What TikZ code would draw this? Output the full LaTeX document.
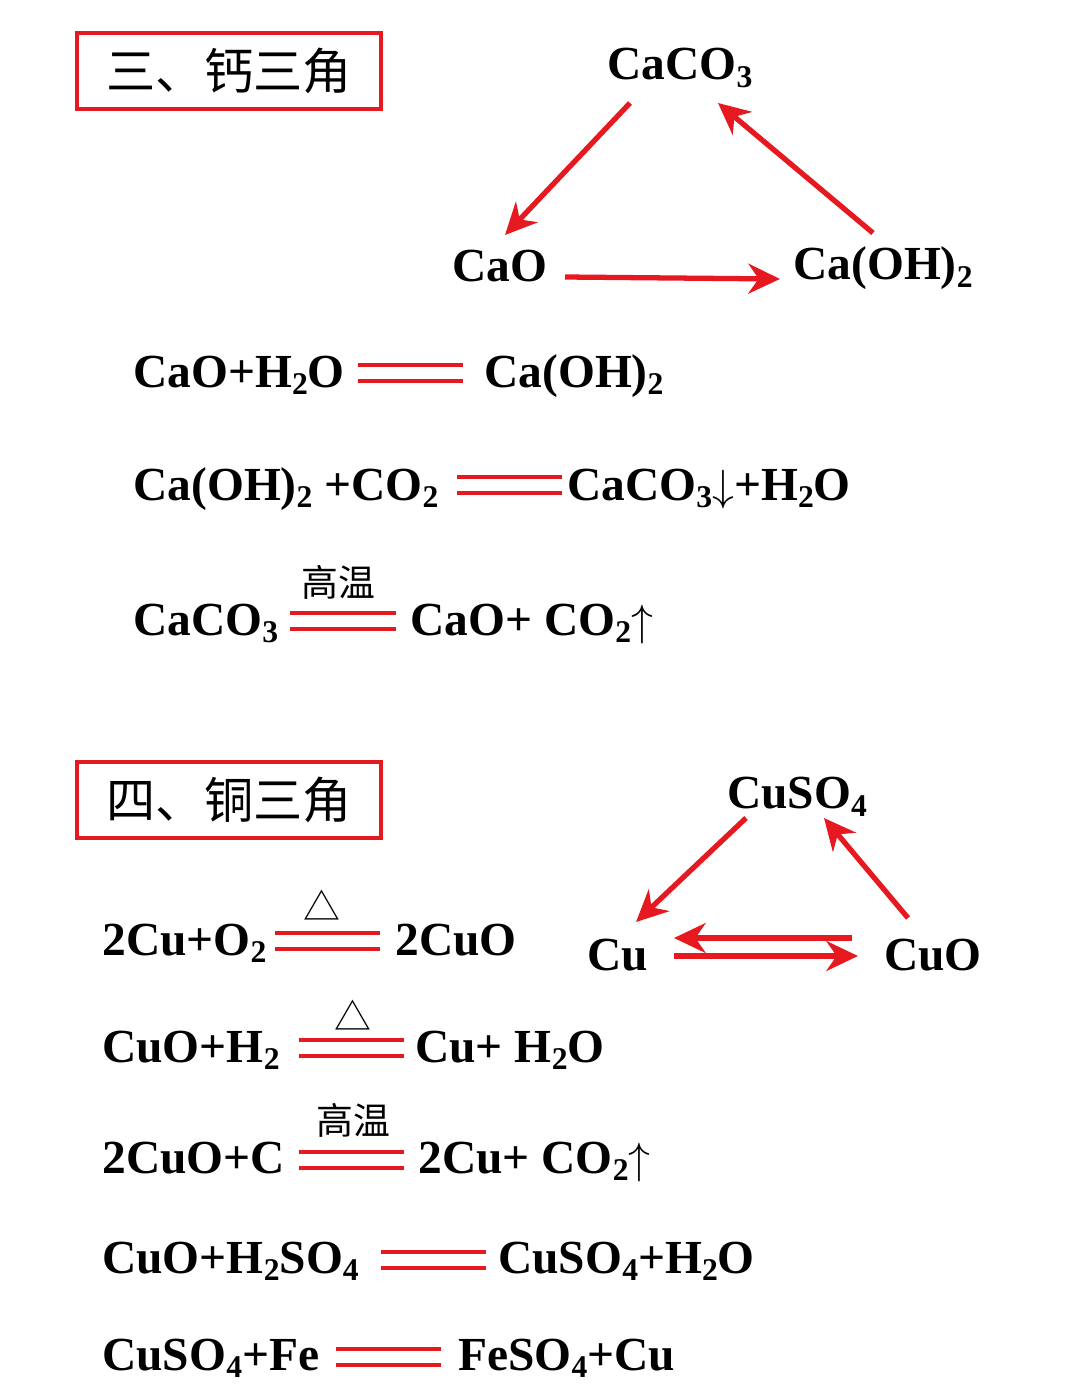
\documentclass[tikz,border=0pt]{standalone}
\usepackage{fontspec}
\setmainfont{Liberation Serif}
\newfontfamily\cjk{Noto Sans CJK SC}
\usetikzlibrary{arrows.meta}
\definecolor{ChemRed}{rgb}{0.9,0.1,0.12}
\newcommand{\sbs}[1]{\raisebox{-0.35ex}{\fontsize{18}{20}\selectfont #1}}
\begin{document}
\begin{tikzpicture}[x=0.02cm,y=-0.02cm,
  formula/.style={anchor=base west,inner sep=0pt,font=\fontsize{27}{30}\selectfont\bfseries},
  species/.style={inner sep=2pt,font=\fontsize{27}{30}\selectfont\bfseries},
  cond/.style={inner sep=0pt,font=\cjk\fontsize{21}{24}\selectfont},
  title/.style={draw=ChemRed,line width=2.5pt,minimum width=304*0.02cm,minimum height=76*0.02cm,font=\cjk\fontsize{28}{32}\selectfont},
  conv/.style={ChemRed,line width=3pt,-{Stealth[length=18pt,width=17pt]}},
  eqline/.style={ChemRed,line width=2.2pt}]
\useasboundingbox (0,0) rectangle (1080,1386);
\newcommand{\eqsign}[3]{% x1, x2, y
  \draw[eqline] (#1,#3-8) -- (#2,#3-8);
  \draw[eqline] (#1,#3+8) -- (#2,#3+8);}

% calcium triangle
\node[title] (t1) at (229,71) {三、钙三角};
\node[species] (caco3) at (680,68) {CaCO\sbs{3}};
\node[species] (cao) at (500,266) {CaO};
\node[species] (caoh) at (883,268) {Ca(OH)\sbs{2}};
\coordinate (a1) at (630,103); \coordinate (b1) at (505,235);
\coordinate (a2) at (873,233); \coordinate (b2) at (718,103);
\coordinate (a3) at (565,277); \coordinate (b3) at (780,279);
\draw[conv] (a1) -- (b1);
\draw[conv] (a2) -- (b2);
\draw[conv] (a3) -- (b3);

\node[formula] (e1l) at (133,387) {CaO+H\sbs{2}O};
\eqsign{358}{463}{373}
\node[formula] (e1r) at (484,387) {Ca(OH)\sbs{2}};
\node[formula] (e2l) at (133,500) {Ca(OH)\sbs{2} +CO\sbs{2}};
\eqsign{457}{562}{485}
\node[formula] (e2r) at (567,500) {CaCO\sbs{3}$\downarrow$+H\sbs{2}O};
\node[formula] (e3l) at (133,635) {CaCO\sbs{3}};
\eqsign{290}{396}{621}
\node[cond] (c3) at (338,582) {高温};
\node[formula] (e3r) at (410,635) {CaO+ CO\sbs{2}$\uparrow$};

% copper triangle
\node[title] (t2) at (229,800) {四、铜三角};
\node[species] (cuso4) at (797,797) {CuSO\sbs{4}};
\node[species] (cu) at (618,955) {Cu};
\node[species] (cuo) at (933,955) {CuO};
\coordinate (a4) at (746,818); \coordinate (b4) at (636,922);
\coordinate (a5) at (908,918); \coordinate (b5) at (824,818);
\coordinate (a6) at (852,938); \coordinate (b6) at (674,938);
\coordinate (a7) at (674,956); \coordinate (b7) at (858,956);
\draw[conv] (a4) -- (b4);
\draw[conv] (a5) -- (b5);
\draw[conv] (a6) -- (b6);
\draw[conv] (a7) -- (b7);

\node[formula] (e4l) at (102,955) {2Cu+O\sbs{2}};
\eqsign{275}{380}{941}
\node[cond] (c4) at (322,905) {△};
\node[formula] (e4r) at (395,955) {2CuO};
\node[formula] (e5l) at (102,1062) {CuO+H\sbs{2}};
\eqsign{299}{404}{1048}
\node[cond] (c5) at (353,1015) {△};
\node[formula] (e5r) at (415,1062) {Cu+ H\sbs{2}O};
\node[formula] (e6l) at (102,1173) {2CuO+C};
\eqsign{299}{404}{1160}
\node[cond] (c6) at (353,1120) {高温};
\node[formula] (e6r) at (418,1173) {2Cu+ CO\sbs{2}$\uparrow$};
\node[formula] (e7l) at (102,1273) {CuO+H\sbs{2}SO\sbs{4}};
\eqsign{381}{486}{1260}
\node[formula] (e7r) at (498,1273) {CuSO\sbs{4}+H\sbs{2}O};
\node[formula] (e8l) at (102,1370) {CuSO\sbs{4}+Fe};
\eqsign{336}{441}{1357}
\node[formula] (e8r) at (458,1370) {FeSO\sbs{4}+Cu};
\end{tikzpicture}
\end{document}
